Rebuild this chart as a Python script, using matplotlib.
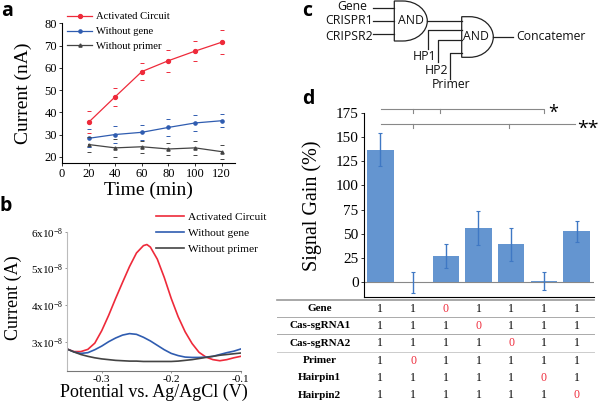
import matplotlib
matplotlib.use('Agg')
import matplotlib.pyplot as plt
import numpy as np
from matplotlib.patches import PathPatch
from matplotlib.path import Path

plt.rcParams['font.family'] = ['Liberation Serif', 'DejaVu Serif']
plt.rcParams['mathtext.default'] = 'regular'

W, H = 600, 404

# panel a
times = [20, 40, 60, 80, 100, 120]
act_a = [35.5, 47, 58.3, 63.2, 67.5, 71.5]
act_a_err = [5, 4, 4, 5, 4.5, 5.5]
gene_a = [28.3, 30, 31, 33.2, 35.2, 36.2]
gene_a_err = [4, 3.7, 3.5, 4, 3.5, 3]
primer_a = [25.5, 24, 24.5, 23.5, 24, 22.3]
primer_a_err = [3.5, 4.2, 2.7, 2.6, 3.3, 3.2]

# panel b
potential = [-0.35, -0.34, -0.33, -0.32, -0.31, -0.30, -0.29, -0.28, -0.27, -0.26, -0.25, -0.24, -0.235,
             -0.23, -0.22, -0.21, -0.20, -0.19, -0.18, -0.17, -0.16, -0.15, -0.14, -0.13, -0.12, -0.11, -0.10]
act_b = [2.80, 2.73, 2.73, 2.79, 2.96, 3.30, 3.72, 4.18, 4.62, 5.05, 5.42, 5.62, 5.65,
         5.58, 5.25, 4.75, 4.18, 3.68, 3.27, 2.95, 2.71, 2.58, 2.51, 2.48, 2.51, 2.56, 2.60]
gene_b = [2.80, 2.72, 2.68, 2.70, 2.78, 2.88, 3.00, 3.10, 3.18, 3.22, 3.20, 3.12, 3.07,
          3.02, 2.90, 2.78, 2.68, 2.62, 2.58, 2.57, 2.57, 2.58, 2.60, 2.65, 2.70, 2.74, 2.80]
primer_b = [2.80, 2.72, 2.65, 2.60, 2.56, 2.53, 2.51, 2.49, 2.48, 2.47, 2.47, 2.46, 2.46,
            2.46, 2.46, 2.46, 2.46, 2.47, 2.49, 2.51, 2.54, 2.57, 2.60, 2.63, 2.65, 2.67, 2.69]

# panel d
columns = [1, 2, 3, 4, 5, 6, 7]
gain = [137, 0, 27, 56, 39.5, 1.5, 52.5]
gain_err = [17, 10.5, 12.5, 17.5, 17, 9.5, 11]
row_names = ['Gene', 'Cas-sgRNA1', 'Cas-sgRNA2', 'Primer', 'Hairpin1', 'Hairpin2']
states = [[1, 1, 0, 1, 1, 1, 1],
          [1, 1, 1, 0, 1, 1, 1],
          [1, 1, 1, 1, 0, 1, 1],
          [1, 0, 1, 1, 1, 1, 1],
          [1, 1, 1, 1, 1, 0, 1],
          [1, 1, 1, 1, 1, 1, 0]]

RED = '#ee2a3a'
BLUE = '#2f5cb0'
DARK = '#444444'
SANS = 'Open Sans'


def px_axes(fig, left, top, right, bottom):
    return fig.add_axes([left / W, 1 - bottom / H, (right - left) / W, (bottom - top) / H])


fig = plt.figure(figsize=(6, 4.04), dpi=100, facecolor='white')

# --- a ---
ax = px_axes(fig, 62, 23.3, 235, 163)
ax.plot(times, act_a, color=RED, lw=0.9, marker='o', ms=2.8, label='Activated Circuit')
ax.plot(times, gene_a, color=BLUE, lw=0.9, marker='o', ms=2.3, label='Without gene')
ax.plot(times, primer_a, color=DARK, lw=0.9, marker='^', ms=2.3, label='Without primer')
for vals, errs, col in [(act_a, act_a_err, RED), (gene_a, gene_a_err, BLUE), (primer_a, primer_a_err, DARK)]:
    ax.errorbar(times, vals, yerr=errs, fmt='none', ecolor=col, elinewidth=0, capsize=1.5, capthick=0.7)
ax.set_xlim(0, 130)
ax.set_ylim(17.2, 80)
ax.set_xticks([0, 20, 40, 60, 80, 100, 120])
ax.set_yticks([20, 30, 40, 50, 60, 70, 80])
ax.tick_params(labelsize=9, length=2, width=0.7, pad=1.5, color='#333333')
ax.spines[['top', 'right']].set_visible(False)
ax.set_xlabel('Time (min)', fontsize=14, labelpad=1.5)
ax.set_ylabel('Current (nA)', fontsize=14)
ax.yaxis.set_label_coords((32 - 62) / 173, 0.5)
ax.legend(loc='upper left', bbox_to_anchor=(66.7 / W, 1 - 12 / H), bbox_transform=fig.transFigure, frameon=False,
          fontsize=7.7, handlelength=2.4, handletextpad=0.3, labelspacing=0.5, borderpad=0, borderaxespad=0)

# --- b ---
ax = px_axes(fig, 67, 231.7, 240.7, 371)
ax.plot(potential, act_b, color=RED, lw=1.2, label='Activated Circuit')
ax.plot(potential, gene_b, color=BLUE, lw=1.2, label='Without gene')
ax.plot(potential, primer_b, color=DARK, lw=1.2, label='Without primer')
ax.set_xlim(-0.35, -0.1)
ax.set_ylim(2.2, 6)
ax.set_xticks([-0.3, -0.2, -0.1])
ax.set_xticklabels(['-0.3', '-0.2', '-0.1'])
ax.set_yticks([3, 4, 5, 6])
ax.set_yticklabels([f'{v}x10$^{{-8}}$' for v in [3, 4, 5, 6]])
ax.tick_params(labelsize=8, length=1.5, width=0.6, pad=1.5, color='#888888')
ax.spines[['top', 'right']].set_visible(False)
ax.spines['left'].set_color('#bbbbbb')
ax.spines['bottom'].set_color('#777777')
ax.set_xlabel('Potential vs. Ag/AgCl (V)', fontsize=13, labelpad=0)
ax.set_ylabel('Current (A)', fontsize=13)
ax.yaxis.set_label_coords((22 - 67) / 173.7, (371 - 298) / 139.3)
ax.legend(loc='upper left', bbox_to_anchor=(156 / W, 1 - 212.5 / H), bbox_transform=fig.transFigure, frameon=False,
          fontsize=8.2, handlelength=2.45, handletextpad=0.33, labelspacing=0.5, borderpad=0, borderaxespad=0)

# --- d ---
ax = px_axes(fig, 364.3, 112.7, 594, 296.7)
ax.bar(columns, gain, width=0.81, color='#6495d0', zorder=2)
ax.errorbar(columns, gain, yerr=gain_err, fmt='none', ecolor='#3f78c4', elinewidth=1, capsize=1.2, capthick=0.8, zorder=3)
ax.axhline(0, color='#888888', lw=0.8, zorder=1)
ax.set_xlim(0.51, 7.53)
ax.set_ylim(-14.8, 175)
ax.set_yticks(np.arange(0, 176, 25))
ax.set_xticks([])
ax.tick_params(labelsize=11, length=2.5, width=0.7, pad=1.5, color='#333333')
ax.spines[['top', 'right']].set_visible(False)
ax.set_ylabel('Signal Gain (%)', fontsize=14.5)
ax.yaxis.set_label_coords((322 - 364.3) / 229.7, (296.7 - 205.5) / 184)

# table below the bars, same x scale as d
tb = px_axes(fig, 364.3, 300, 594, 404)
tb.set_xlim(0.51, 7.53)
tb.set_ylim(5.5, -0.5)
tb.axis('off')
for r, name in enumerate(row_names):
    tb.text(0.51 - 44.5 / 32.7, r, name, ha='center', va='center', fontsize=8, fontweight='bold', clip_on=False)
    for c, v in zip(columns, states[r]):
        tb.text(c, r, str(v), ha='center', va='center', fontsize=8.5, color='black' if v else RED)

# overlay in pixel coordinates: gate diagram, brackets, panel letters, table rules
ov = fig.add_axes([0, 0, 1, 1], facecolor='none')
ov.set_xlim(0, W)
ov.set_ylim(H, 0)
ov.axis('off')

for y, c, lw in [(300, '#999999', 1.2), (317.3, '#aaaaaa', 0.7), (334.3, '#aaaaaa', 0.7), (351.7, '#cccccc', 0.7)]:
    ov.plot([277, 594], [y, y], color=c, lw=lw)

# significance brackets
ov.plot([381, 544, 544], [109, 109, 112.5], color='#888888', lw=0.8)
ov.plot([413, 413], [109, 112.5], color='#888888', lw=0.8)
ov.plot([440, 440], [109, 112.5], color='#888888', lw=0.8)
ov.plot([381, 575], [124, 124], color='#888888', lw=0.8)
ov.plot([413, 413], [124, 128], color='#888888', lw=0.8)
ov.plot([509, 509], [124, 128], color='#888888', lw=0.8)
ov.text(553, 113, '*', fontsize=13, ha='center', va='center', family=SANS)
ov.text(588, 129, '**', fontsize=14, ha='center', va='center', family=SANS)


def gate(left, top, bottom, tip):
    mid = (top + bottom) / 2
    flat = left + (tip - left) * 0.25
    reach = tip - flat
    verts = [(left, top), (flat, top),
             (flat + reach * 0.6, top), (tip, mid - (mid - top) * 0.5), (tip, mid),
             (tip, mid + (mid - top) * 0.5), (flat + reach * 0.6, bottom), (flat, bottom),
             (left, bottom), (left, top)]
    codes = [Path.MOVETO, Path.LINETO, Path.CURVE4, Path.CURVE4, Path.CURVE4,
             Path.CURVE4, Path.CURVE4, Path.CURVE4, Path.LINETO, Path.CLOSEPOLY]
    ov.add_patch(PathPatch(Path(verts, codes), fc='white', ec='#222222', lw=0.9))


gate(394.3, 1, 41, 427.3)
gate(461.7, 16.7, 57.3, 493.3)
wires = [([373, 394.3], [8, 8]), ([373, 394.3], [21, 21]), ([373, 394.3], [34, 34]),
         ([427.3, 461.7], [21, 21]), ([428.3, 428.3, 461.7], [49, 30, 30]),
         ([437.7, 437.7, 461.7], [62, 40, 40]), ([449.7, 449.7, 461.7], [79, 53.3, 53.3]),
         ([493.3, 513], [36.7, 36.7])]
for xs, ys in wires:
    ov.plot(xs, ys, color='#222222', lw=0.9)
labels = [(352, 6.5, 'Gene'), (349, 20, 'CRISPR1'), (349, 37, 'CRIPSR2'), (411, 21, 'AND'), (476, 37, 'AND'),
          (425, 56, 'HP1'), (436, 71, 'HP2'), (451, 85, 'Primer'), (550.5, 37, 'Concatemer')]
for x, y, s in labels:
    ov.text(x, y, s, ha='center', va='center', fontsize=8.8, family=SANS, color='#111111')

for x, y, s in [(7, 16, 'a'), (6, 211, 'b'), (307, 16, 'c'), (308, 104, 'd')]:
    ov.text(x, y, s, ha='center', va='baseline', fontsize=14, fontweight='bold', family=SANS)

fig.savefig('out.png', dpi=100)
plt.close(fig)
